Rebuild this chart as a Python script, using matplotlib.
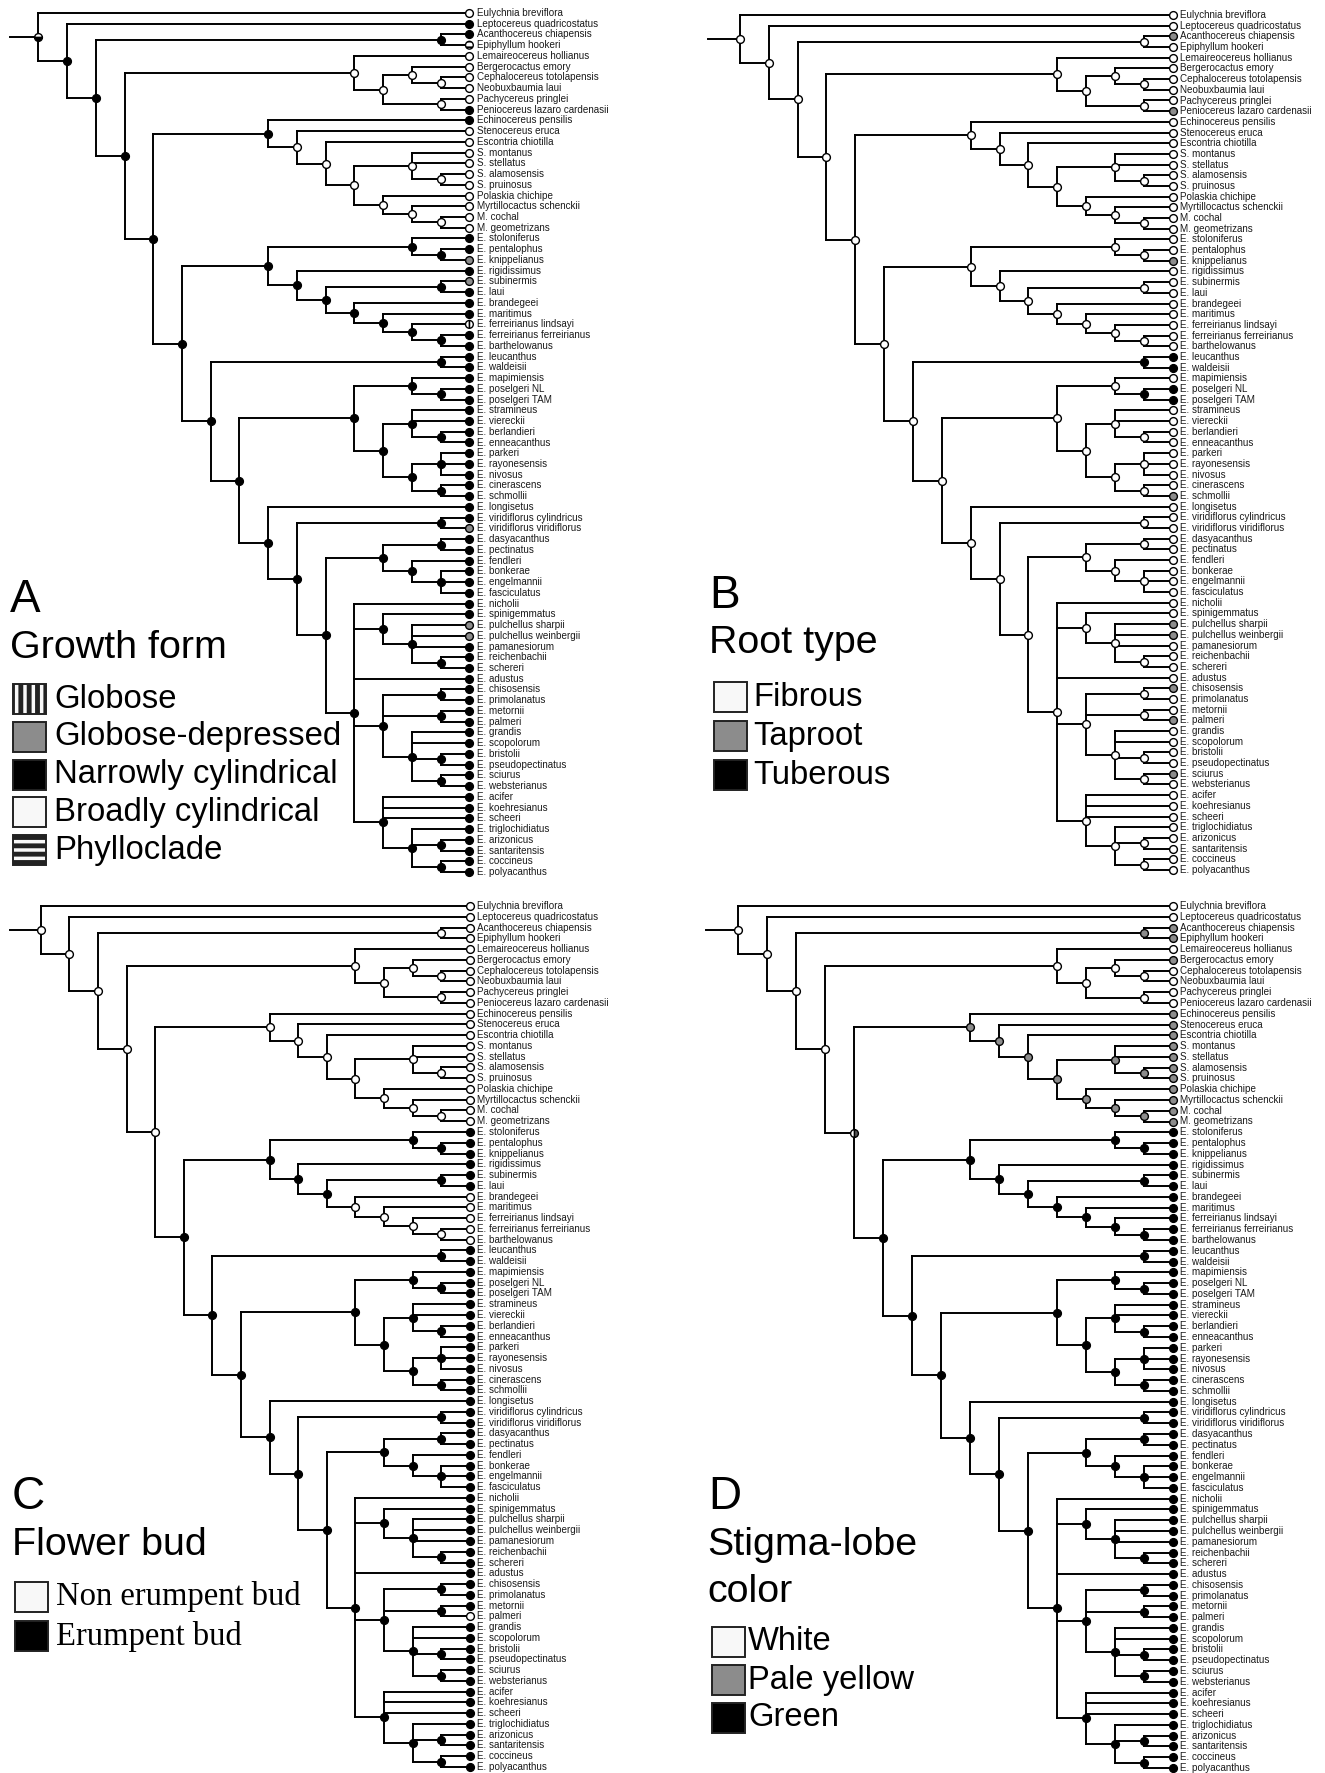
import matplotlib
matplotlib.use('Agg')
import matplotlib.pyplot as plt
from matplotlib import font_manager
from matplotlib.collections import LineCollection
from matplotlib.patches import Rectangle

W, H = 1325, 1773

TAXA = [
    'Eulychnia breviflora', 'Leptocereus quadricostatus', 'Acanthocereus chiapensis',
    'Epiphyllum hookeri', 'Lemaireocereus hollianus', 'Bergerocactus emory',
    'Cephalocereus totolapensis', 'Neobuxbaumia laui', 'Pachycereus pringlei',
    'Peniocereus lazaro cardenasii', 'Echinocereus pensilis', 'Stenocereus eruca',
    'Escontria chiotilla', 'S. montanus', 'S. stellatus', 'S. alamosensis', 'S. pruinosus',
    'Polaskia chichipe', 'Myrtillocactus schenckii', 'M. cochal', 'M. geometrizans',
    'E. stoloniferus', 'E. pentalophus', 'E. knippelianus', 'E. rigidissimus',
    'E. subinermis', 'E. laui', 'E. brandegeei', 'E. maritimus',
    'E. ferreirianus lindsayi', 'E. ferreirianus ferreirianus', 'E. barthelowanus',
    'E. leucanthus', 'E. waldeisii', 'E. mapimiensis', 'E. poselgeri NL', 'E. poselgeri TAM',
    'E. stramineus', 'E. viereckii', 'E. berlandieri', 'E. enneacanthus', 'E. parkeri',
    'E. rayonesensis', 'E. nivosus', 'E. cinerascens', 'E. schmollii', 'E. longisetus',
    'E. viridiflorus cylindricus', 'E. viridiflorus viridiflorus', 'E. dasyacanthus',
    'E. pectinatus', 'E. fendleri', 'E. bonkerae', 'E. engelmannii', 'E. fasciculatus',
    'E. nicholii', 'E. spinigemmatus', 'E. pulchellus sharpii', 'E. pulchellus weinbergii',
    'E. pamanesiorum', 'E. reichenbachii', 'E. schereri', 'E. adustus', 'E. chisosensis',
    'E. primolanatus', 'E. metornii', 'E. palmeri', 'E. grandis', 'E. scopolorum',
    'E. bristolii', 'E. pseudopectinatus', 'E. sciurus', 'E. websterianus', 'E. acifer',
    'E. koehresianus', 'E. scheeri', 'E. triglochidiatus', 'E. arizonicus',
    'E. santaritensis', 'E. coccineus', 'E. polyacanthus',
]

# topology, tips numbered 1..81 in the order of TAXA
CLADE_W = '(56,(57,(58,59,60,(61,62))),63,((64,65),(66,67),(68,69,(70,71),(72,73))),(74,75,76,(77,(78,79),(80,81))))'
CLADE_Z765 = '(((50,51),(52,(53,54,55))),' + CLADE_W + ')'
CLADE_Z630 = '(47,((48,49),' + CLADE_Z765 + '))'
CLADE_Z833 = '((35,(36,37)),((38,39,(40,41)),((42,43,44),(45,46))))'
CLADE_Y495 = '((33,34),(' + CLADE_Z833 + ',' + CLADE_Z630 + '))'
CLADE_Y630 = '((22,(23,24)),(25,((26,27),(28,(29,(30,(31,32)))))))'
CLADE_X11 = '(11,(12,(13,((14,15,(16,17)),(18,(19,(20,21)))))))'
CLADE_LEM = '(5,((6,(7,8)),(9,10)))'
TREE = '(1,(2,((3,4),(' + CLADE_LEM + ',(' + CLADE_X11 + ',(' + CLADE_Y630 + ',' + CLADE_Y495 + '))))))'

# states: w white, g grey, k black, v vertical stripes, h horizontal stripes,
# m half white / half black, t white / grey split
GROWTH_TIPS = ('wkkhwwwwwk' 'kwwwwwwwww' 'wkkgkgkkkv' 'kkkkkkkkkk' 'kkkkkkkkgk'
               'kkkkkkkggk' 'kkkkkkkkkk' 'kkkkkkkkkk' 'k')
GROWTH_NODES = ('mkkkkwwwww' 'kkwwwwwwww' 'kkkkkkkkkk' 'kkkkkkkkkk' 'kkkkkkkkkk'
                'kkkkkkkkkk' 'kkkkk')
ROOT_TIPS = ('wwgwwwwwwg' 'wwwwwwwwww' 'wwwgwwwwww' 'wwkkwkkwww' 'wwwwwgwwww'
             'wwwwwwwggw' 'wwwgwwgwww' 'wgwwwwwwww' 'w')
ROOT_NODES = ('wwwwwwwwww' 'wwwwwwwwww' 'wwwwwwwwww' 'wwkwwwkwww' 'wwwwwwwwww'
              'wwwwwwwwww' 'wwwww')
BUD_TIPS = ('wwwwwwwwww' 'wwwwwwwwww' 'wkkkkkkwww' 'wwkkkkkkkk' 'kkkkkkkkkk'
            'kkkkkkkkkk' 'kkkkkkwkkk' 'kkkkkkkkkk' 'k')
BUD_NODES = ('wwwwwwwwww' 'wwwwwwwwww' 'kkkkkkkwww' 'wkkkkkkkkk' 'kkkkkkkkkk'
             'kkkkkkkkkk' 'kkkkk')
STIGMA_TIPS = ('wwggwgwwww' 'gggggggggg' 'gkkkkkkkkk' 'kkkkkkkkkk' 'kkkkkkkkkk'
               'kkkkkkkkkk' 'kkkkkkkkkk' 'kkkkkkkkkk' 'k')
STIGMA_NODES = ('wwwgwwwwww' 'tggggggggg' 'kkkkkkkkkk' 'kkkkkkkkkk' 'kkkkkkkkkk'
                'kkkkkkkkkk' 'kkkkk')

GROWTH_LABELS = ['Globose', 'Globose-depressed', 'Narrowly cylindrical',
                 'Broadly cylindrical', 'Phylloclade']
GROWTH_CODES = ['v', 'g', 'k', 'w', 'h']
ROOT_LABELS = ['Fibrous', 'Taproot', 'Tuberous']
ROOT_CODES = ['w', 'g', 'k']
BUD_LABELS = ['Non erumpent bud', 'Erumpent bud']
BUD_CODES = ['w', 'k']
STIGMA_LABELS = ['White', 'Pale yellow', 'Green']
STIGMA_CODES = ['w', 'g', 'k']

FILL = {'w': 'white', 'g': '#8c8c8c', 'k': 'black'}
HATCH = {'v': '|||', 'h': '---'}

plt.rcParams['hatch.linewidth'] = 1.2

try:
    font_manager.findfont('Liberation Sans Narrow', fallback_to_default=False)
    LABEL_FONT, LABEL_PT = 'Liberation Sans Narrow', 8.6
except ValueError:
    LABEL_FONT, LABEL_PT = 'Liberation Sans', 7.1


def parse(s):
    nodes = []
    pos = 0

    def rec():
        nonlocal pos
        if s[pos] == '(':
            idx = len(nodes)
            nodes.append(None)
            pos += 1
            kids = [rec()]
            while s[pos] == ',':
                pos += 1
                kids.append(rec())
            pos += 1
            nodes[idx] = kids
            return ('n', idx)
        j = pos
        while s[pos] not in ',)':
            pos += 1
        return ('t', int(s[j:pos]) - 1)

    root = rec()
    return root, nodes


ROOT, NODES = parse(TREE)
node_h = [0] * len(NODES)
node_y = [0.0] * len(NODES)


def place(ref):
    kind, i = ref
    if kind == 't':
        return 0, float(i)
    res = [place(k) for k in NODES[i]]
    node_h[i] = 1 + max(r[0] for r in res)
    node_y[i] = (res[0][1] + res[-1][1]) / 2
    return node_h[i], node_y[i]


HR, _ = place(ROOT)


def pos_of(ref):
    kind, i = ref
    if kind == 't':
        return HR, float(i)
    return HR - node_h[i], node_y[i]


def draw_marks(ax, pts, ms):
    for code in 'wgk':
        sel = [(x, y) for x, y, c in pts if c == code]
        if sel:
            ax.scatter([p[0] for p in sel], [p[1] for p in sel], s=ms ** 2,
                       facecolor=FILL[code], edgecolor='black', linewidths=1.0, zorder=3)
    for code, hatch in HATCH.items():
        sel = [(x, y) for x, y, c in pts if c == code]
        if sel:
            ax.scatter([p[0] for p in sel], [p[1] for p in sel], s=ms ** 2,
                       facecolor='white', edgecolor='black', hatch=hatch,
                       linewidths=1.0, zorder=3)
    for x, y, c in pts:
        if c == 'm':
            ax.plot(x, y, 'o', ms=ms, fillstyle='top', mfc='white',
                    mfcalt='black', mec='black', mew=1.0, zorder=3)
        elif c == 't':
            ax.plot(x, y, 'o', ms=ms, fillstyle='left', mfc='white',
                    mfcalt='#555555', mec='black', mew=1.0, zorder=3)


def draw_tree(ax, geo, tips, nodes):
    x0, x1, y0, y1, stub = geo
    step = (x1 - x0) / HR
    dy = (y1 - y0) / 80
    ax.set_xlim((0 - x0) / step, (W - x0) / step)
    ax.set_ylim((H - y0) / dy, (0 - y0) / dy)
    ax.axis('off')

    segs = []
    for idx, kids in enumerate(NODES):
        xn = HR - node_h[idx]
        ys = [pos_of(k)[1] for k in kids]
        segs.append([(xn, ys[0]), (xn, ys[-1])])
        for k in kids:
            kx, ky = pos_of(k)
            segs.append([(xn, ky), (kx, ky)])
    ry = node_y[0]
    segs.append([((stub - x0) / step, ry), (0, ry)])
    ax.add_collection(LineCollection(segs, colors='black', linewidths=1.4,
                                     capstyle='projecting', zorder=2))

    pts = [(HR, float(i), tips[i]) for i in range(len(TAXA))]
    pts += [(HR - node_h[i], node_y[i], nodes[i]) for i in range(len(NODES))]
    draw_marks(ax, pts, 5.6)

    for i, name in enumerate(TAXA):
        ax.text(HR + 7.5 / step, i, name, fontsize=LABEL_PT, family=LABEL_FONT,
                color='#1a1a1a', va='center', ha='left')


fig = plt.figure(figsize=(W / 100, H / 100), dpi=100)
ov = fig.add_axes([0, 0, 1, 1], zorder=5)
ov.set_xlim(0, W)
ov.set_ylim(H, 0)
ov.axis('off')

panels = [
    dict(geo=(38.3, 469.4, 13, 872, 10), tips=GROWTH_TIPS, nodes=GROWTH_NODES,
         letter=('A', 10, 612), title=[('Growth form', 658)], title_x=10,
         legend=(GROWTH_LABELS, GROWTH_CODES), leg_x=13, leg_tx=54,
         leg_y=[699, 737, 775, 812, 850], leg_pt=23.7, leg_font='Liberation Sans'),
    dict(geo=(739.9, 1172.7, 15, 870, 708), tips=ROOT_TIPS, nodes=ROOT_NODES,
         letter=('B', 709, 608), title=[('Root type', 653)], title_x=709,
         legend=(ROOT_LABELS, ROOT_CODES), leg_x=714, leg_tx=753,
         leg_y=[697, 736, 775], leg_pt=23.6, leg_font='Liberation Sans'),
    dict(geo=(40.7, 469.8, 906, 1767, 9.5), tips=BUD_TIPS, nodes=BUD_NODES,
         letter=('C', 12, 1509), title=[('Flower bud', 1555)], title_x=12,
         legend=(BUD_LABELS, BUD_CODES), leg_x=15, leg_tx=56,
         leg_y=[1597, 1636], leg_pt=23.5, leg_font='Liberation Serif'),
    dict(geo=(737.9, 1172.7, 906, 1768, 706), tips=STIGMA_TIPS, nodes=STIGMA_NODES,
         letter=('D', 708, 1509), title=[('Stigma-lobe', 1555), ('color', 1602)], title_x=707,
         legend=(STIGMA_LABELS, STIGMA_CODES), leg_x=712, leg_tx=748,
         leg_y=[1642, 1680, 1718], leg_pt=23.6, leg_font='Liberation Sans'),
]

for p in panels:
    ax = fig.add_axes([0, 0, 1, 1])
    draw_tree(ax, p['geo'], p['tips'], p['nodes'])

    s, lx, ly = p['letter']
    ov.text(lx, ly, s, fontsize=33, family='Liberation Sans', va='baseline', ha='left')
    for line, by in p['title']:
        ov.text(p['title_x'], by, line, fontsize=28.4, family='Liberation Sans',
                va='baseline', ha='left')
    labels, codes = p['legend']
    for lab, code, yc in zip(labels, codes, p['leg_y']):
        face = FILL.get(code, 'white')
        if face == 'white':
            face = '#f8f8f8'
        r = Rectangle((p['leg_x'], yc - 15), 33, 30, facecolor=face, edgecolor='#222222',
                      linewidth=1.4, hatch={'v': '||', 'h': '--'}.get(code))
        if code in 'vh':
            try:
                r.set_hatch_linewidth(3.5)
            except AttributeError:
                pass
        ov.add_patch(r)
        ov.text(p['leg_tx'], yc, lab, fontsize=p['leg_pt'], family=p['leg_font'],
                va='center', ha='left')

fig.savefig('out.png', dpi=100)
